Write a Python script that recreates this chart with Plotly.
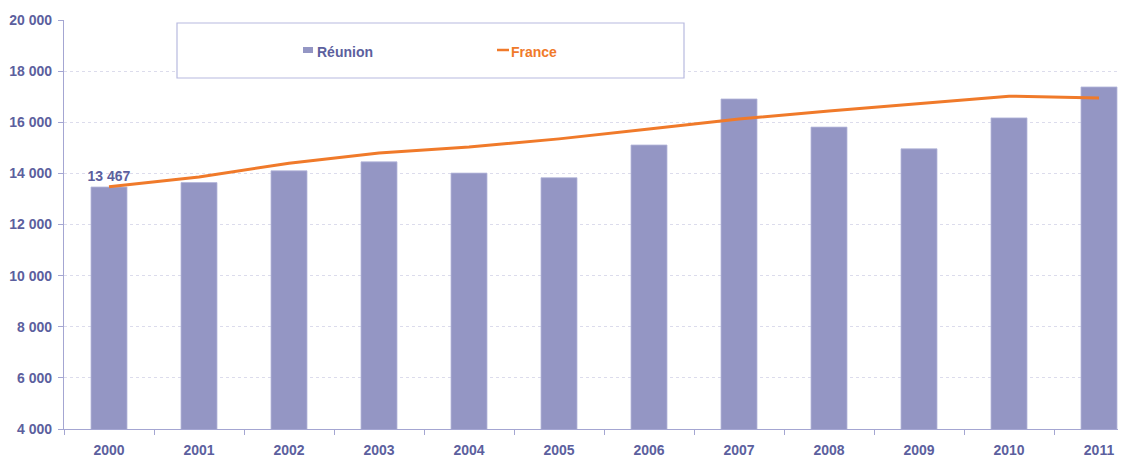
import plotly.graph_objects as go

years = ["2000", "2001", "2002", "2003", "2004", "2005", "2006", "2007", "2008", "2009", "2010", "2011"]
reunion = [13467, 13640, 14100, 14450, 14010, 13830, 15110, 16910, 15810, 14960, 16170, 17380]
france = [13480, 13860, 14400, 14800, 15030, 15350, 15740, 16130, 16440, 16720, 17020, 16950]
bar_labels = ["13 467"] + [""] * 11
y_ticks = [4000, 6000, 8000, 10000, 12000, 14000, 16000, 18000, 20000]
y_tick_text = ["4 000", "6 000", "8 000", "10 000", "12 000", "14 000", "16 000", "18 000", "20 000"]

TXT = "#5c5f9e"
BAR = "#9496c4"
ORANGE = "#f07a2a"
AXIS = "#a4a6d2"
FONT = "Liberation Sans, Arial, sans-serif"

fig = go.Figure()
fig.add_trace(go.Bar(
    x=years, y=reunion, name="Réunion", width=0.4,
    marker=dict(color=BAR, line=dict(color="#b4b6da", width=0.8)),
    text=bar_labels, textposition="outside", cliponaxis=False,
    constraintext="none",
    textfont=dict(family=FONT, size=14, color=TXT, weight="bold"),
    showlegend=False,
))
fig.add_trace(go.Scatter(
    x=years, y=france, name="France", mode="lines",
    line=dict(color=ORANGE, width=3), showlegend=False,
))

# legend box drawn as shapes + text (paper coords relative to plot area)
fig.add_shape(type="rect", xref="paper", yref="paper",
              x0=0.1064, x1=0.5838, y0=0.8582, y1=0.9927,
              line=dict(color="#b8badf", width=1.2), fillcolor="white", layer="above")
fig.add_shape(type="rect", xref="paper", yref="paper",
              x0=(303 - 64) / 1062, x1=(313 - 64) / 1062,
              y0=(429 - 53) / 409, y1=(429 - 47) / 409,
              line=dict(width=0), fillcolor=BAR, layer="above")
fig.add_shape(type="line", xref="paper", yref="paper",
              x0=(497 - 64) / 1062, x1=(509 - 64) / 1062,
              y0=(429 - 50) / 409, y1=(429 - 50) / 409,
              line=dict(color=ORANGE, width=2.5), layer="above")
fig.add_annotation(xref="paper", yref="paper", x=(315 - 64) / 1062, y=(429 - 52) / 409,
                   text="<b>Réunion</b>", showarrow=False, xanchor="left", yanchor="middle",
                   font=dict(family=FONT, size=14, color=TXT))
fig.add_annotation(xref="paper", yref="paper", x=(509 - 64) / 1062, y=(429 - 52) / 409,
                   text="<b>France</b>", showarrow=False, xanchor="left", yanchor="middle",
                   font=dict(family=FONT, size=14, color=ORANGE))

# page body has an 8px margin, so the figure is sized/offset to compensate
fig.update_layout(
    width=1118, height=455,
    margin=dict(l=56, r=0, t=12, b=34, autoexpand=False),
    paper_bgcolor="white", plot_bgcolor="white",
    font=dict(family=FONT, size=14, color=TXT),
    bargap=0.6,
)
fig.update_xaxes(
    type="category", range=[-0.5, 11.3], automargin=False,
    showline=True, linecolor=AXIS, linewidth=1.2,
    ticks="outside", tickson="boundaries", ticklen=5, tickcolor=AXIS,
    tickfont=dict(family=FONT, size=14, color=TXT, weight="bold"),
    ticklabelstandoff=8, showgrid=False,
)
fig.update_yaxes(
    range=[4000, 20000], tickvals=y_ticks, ticktext=y_tick_text, automargin=False,
    showline=True, linecolor=AXIS, linewidth=1.2,
    ticks="outside", ticklen=5, tickcolor=AXIS,
    tickfont=dict(family=FONT, size=14, color=TXT, weight="bold"),
    ticklabelstandoff=3,
    showgrid=True, gridcolor="#dcdcec", griddash="dot", gridwidth=1,
    zeroline=False,
)

fig.write_html("out.html")
